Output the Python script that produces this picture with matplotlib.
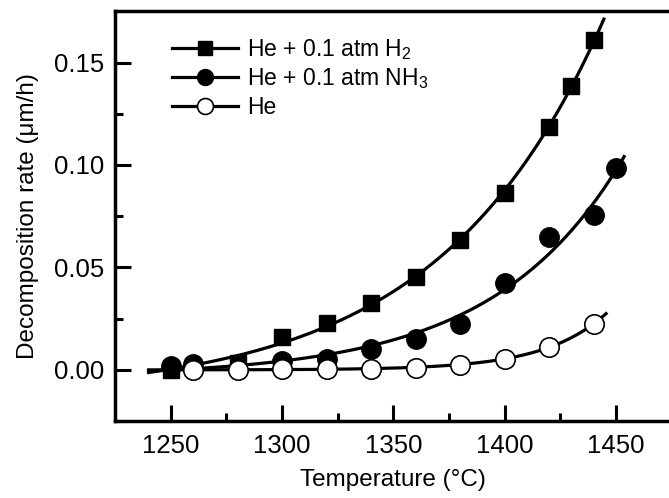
"""
Decomposition rate vs temperature for three atmospheres
"""
import numpy as np
import matplotlib.pyplot as plt
from matplotlib.ticker import MultipleLocator

plt.rcParams['font.family'] = ['Liberation Sans', 'DejaVu Sans']
plt.rcParams['mathtext.fontset'] = 'custom'
plt.rcParams['mathtext.rm'] = 'Liberation Sans'

T_h2 = [1250, 1280, 1300, 1320, 1340, 1360, 1380, 1400, 1420, 1430, 1440]
rate_h2 = [0.0, 0.0035, 0.0159, 0.023, 0.0325, 0.0455, 0.0634, 0.0862, 0.1186, 0.1384, 0.1608]

T_nh3 = [1250, 1260, 1300, 1320, 1340, 1360, 1380, 1400, 1420, 1440, 1450]
rate_nh3 = [0.0017, 0.0026, 0.0045, 0.0055, 0.0104, 0.0150, 0.0225, 0.0422, 0.0650, 0.0755, 0.0983]

T_he = [1260, 1280, 1300, 1320, 1340, 1360, 1380, 1400, 1420, 1440]
rate_he = [0.0, 0.0, 0.0003, 0.0004, 0.0004, 0.0011, 0.0024, 0.0054, 0.0111, 0.0224]

# end of each fitted curve
fit_end = {"h2": 1444.6, "nh3": 1453.7, "he": 1445.6}
fit_start = 1240


def exp_fit(T, y):
    # y = A*exp(k*(T-1240)) + C, best k on a grid, A and C by least squares
    T = np.asarray(T, float) - fit_start
    y = np.asarray(y, float)
    best = None
    for k in np.linspace(0.001, 0.08, 800):
        M = np.column_stack([np.exp(k * T), np.ones_like(T)])
        coef, res, *_ = np.linalg.lstsq(M, y, rcond=None)
        err = np.sum((M @ coef - y) ** 2)
        if best is None or err < best[0]:
            best = (err, k, coef)
    _, k, (A, C) = best
    return lambda t: A * np.exp(k * (np.asarray(t) - fit_start)) + C


fig = plt.figure(figsize=(6.69, 4.98), dpi=100)
ax = fig.add_axes([115.2 / 669, 77 / 498, (671.5 - 115.2) / 669, (421 - 11.4) / 498])

lw = 2.3
series = [
    (T_h2, rate_h2, "h2", dict(marker='s', ms=12, mfc='black', mec='black'),
     r'He + 0.1 atm H$_\mathregular{2}$'),
    (T_nh3, rate_nh3, "nh3", dict(marker='o', ms=14, mfc='black', mec='black'),
     r'He + 0.1 atm NH$_\mathregular{3}$'),
    (T_he, rate_he, "he", dict(marker='o', ms=14, mfc='white', mec='black', mew=1.2),
     'He'),
]

handles = []
for T, y, key, mk, label in series:
    f = exp_fit(T, y)
    tt = np.linspace(fit_start, fit_end[key], 300)
    ax.plot(tt, f(tt), color='black', lw=lw, zorder=2)
    ax.plot(T, y, ls='none', zorder=3, **mk)
    legmk = dict(mk)
    legmk['ms'] = mk['ms'] * 0.82
    h, = ax.plot([], [], color='black', lw=lw, label=label, **legmk)
    handles.append(h)

ax.set_xlim(1225, 1475)
ax.set_ylim(-0.025, 0.175)
ax.xaxis.set_major_locator(MultipleLocator(50))
ax.xaxis.set_minor_locator(MultipleLocator(25))
ax.yaxis.set_major_locator(MultipleLocator(0.05))
ax.yaxis.set_minor_locator(MultipleLocator(0.025))
ax.yaxis.set_major_formatter(plt.FormatStrFormatter('%.2f'))

ax.spines['right'].set_visible(False)
for s in ['left', 'top', 'bottom']:
    ax.spines[s].set_linewidth(2.5)
ax.tick_params(which='both', direction='in', width=2.2, labelsize=18.5, top=False, right=False)
ax.tick_params(which='major', length=11.5)
ax.tick_params(which='minor', length=5.8)
ax.tick_params(axis='x', pad=9)
ax.tick_params(axis='y', pad=8)

ax.set_xlabel("Temperature (°C)", fontsize=17.5, labelpad=8)
ax.set_ylabel("Decomposition rate (μm/h)", fontsize=17.5, labelpad=11)

ax.legend(handles=handles, loc='upper left', bbox_to_anchor=(0.085, 0.96),
          frameon=False, fontsize=16.5, handlelength=2.9, handletextpad=0.4,
          labelspacing=0.2, borderaxespad=0)

plt.savefig("out.png", dpi=100)
